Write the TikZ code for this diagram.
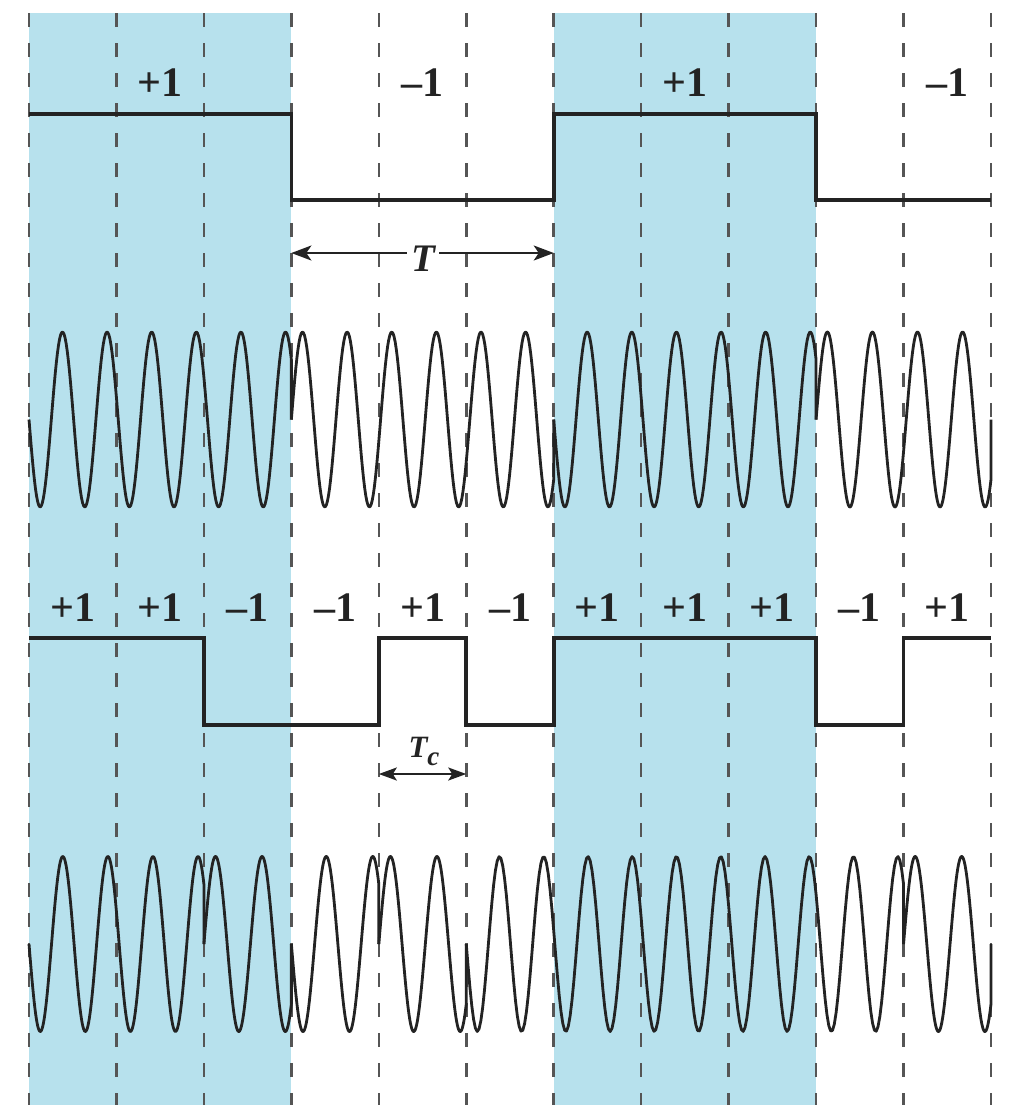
\documentclass[tikz,border=0pt]{standalone}
\usepackage{fontspec}
\setmainfont{Liberation Serif}
\usetikzlibrary{arrows.meta}
\definecolor{bandc}{RGB}{183,225,237}
\definecolor{gridc}{RGB}{85,85,85}
\definecolor{inkc}{RGB}{35,35,35}
\newcommand\sinrun[5]{%
  \pgfmathsetmacro\runxs{29+#1*\cw}%
  \pgfmathsetmacro\runxe{29+#2*\cw}%
  \pgfmathsetmacro\runfr{360*(#3-0.12)}%
  \draw[wave] plot[domain=\runxs:\runxe, samples=241]
    (\x,{#5+87.5*(#4)*sin(\runfr*((\x-\runxs)/(\runxe-\runxs)))}) -- (\runxe,#5);
}
\begin{document}
\begin{tikzpicture}[x=0.5pt,y=-0.5pt,
  gridline/.style={gridc, line width=1.25pt, dash pattern=on 7pt off 8pt},
  sq/.style={inkc, line width=1.8pt, line join=miter},
  wave/.style={inkc, line width=1.4pt, line join=round},
  dim/.style={inkc, line width=1pt},
  lab/.style={font=\fontsize{21}{21}\selectfont\bfseries, inner sep=0pt, text=inkc},
  bigtip/.tip={Stealth[length=10pt,width=7.5pt,inset=2.5pt]},
  smalltip/.tip={Stealth[length=9pt,width=6.5pt,inset=2pt]},
 ]
\useasboundingbox (0,0) rectangle (1010,1105);
\pgfmathsetmacro\cw{962/11}
% bands
\fill[bandc] (29,13) rectangle ({29+3*\cw},1105);
\fill[bandc] ({29+6*\cw},13) rectangle ({29+9*\cw},1105);
% grid
\foreach \k in {0,...,11} \draw[gridline] ({29+\k*\cw},13) -- ({29+\k*\cw},1105);
% data signal
\draw[sq] (29,114) -- ({29+3*\cw},114) -- ({29+3*\cw},200) -- ({29+6*\cw},200)
  -- ({29+6*\cw},114) -- ({29+9*\cw},114) -- ({29+9*\cw},200) -- (991,200);
\node[lab] (d1) at ({29+1.5*\cw},83) {+1};
\node[lab] (d2) at ({29+4.5*\cw},83) {–1};
\node[lab] (d3) at ({29+7.5*\cw},83) {+1};
\node[lab] (d4) at ({29+10.5*\cw},83) {–1};
% T dimension
\node[font=\fontsize{19.5}{19.5}\selectfont\bfseries\itshape, inner sep=2pt, text=inkc] (T) at (423,259) {T};
\coordinate (Ta) at ({29+3*\cw},253);
\coordinate (Tb) at ({29+6*\cw},253);
\draw[dim, {bigtip}-] (Ta) -- (Ta -| T.west);
\draw[dim, -{bigtip}] (Tb -| T.east) -- (Tb);
% modulated data
\sinrun{0}{3}{6}{1}{419.5}
\sinrun{3}{6}{6}{-1}{419.5}
\sinrun{6}{9}{6}{1}{419.5}
\sinrun{9}{11}{4}{-1}{419.5}
% chips
\foreach \k/\s in {0/+1,1/+1,2/–1,3/–1,4/+1,5/–1,6/+1,7/+1,8/+1,9/–1,10/+1}
  \node[lab] (c\k) at ({29+(\k+0.5)*\cw},608) {\s};
\draw[sq] (29,638) -- ({29+2*\cw},638) -- ({29+2*\cw},725) -- ({29+4*\cw},725)
  -- ({29+4*\cw},638) -- ({29+5*\cw},638) -- ({29+5*\cw},725) -- ({29+6*\cw},725)
  -- ({29+6*\cw},638) -- ({29+9*\cw},638) -- ({29+9*\cw},725) -- ({29+10*\cw},725)
  -- ({29+10*\cw},638) -- (991,638);
% Tc dimension
\node[font=\fontsize{15.5}{15.5}\selectfont\bfseries\itshape, inner sep=0pt, text=inkc] (Tc)
  at (424,751) {T\raisebox{-4pt}{\fontsize{13.5}{13.5}\selectfont c}};
\coordinate (Tca) at ({29+4*\cw},774);
\coordinate (Tcb) at ({29+5*\cw},774);
\draw[dim, {smalltip}-{smalltip}] (Tca) -- (Tcb);
% spread signal
\sinrun{0}{2}{4}{1}{944}
\sinrun{2}{3}{2}{-1}{944}
\sinrun{3}{4}{2}{1}{944}
\sinrun{4}{5}{2}{-1}{944}
\sinrun{5}{10}{10}{1}{944}
\sinrun{10}{11}{2}{-1}{944}
\end{tikzpicture}
\end{document}
